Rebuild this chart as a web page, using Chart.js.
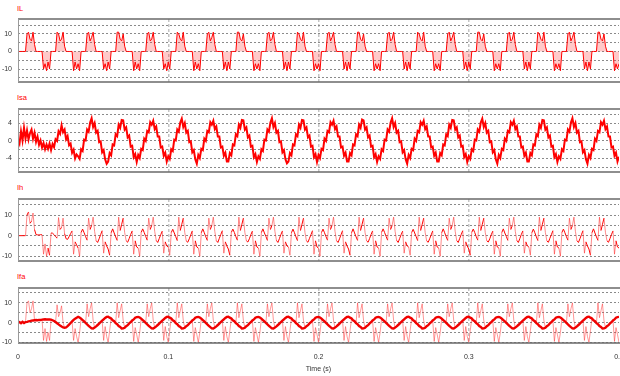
<!DOCTYPE html>
<html><head><meta charset="utf-8">
<script src="https://cdn.jsdelivr.net/npm/chart.js@4.4.1/dist/chart.umd.min.js"></script>
<style>
html,body{margin:0;padding:0;background:#fff;overflow:hidden;width:620px;height:376px;position:relative;}
canvas{position:absolute;left:0;}
.ttl{position:absolute;left:17px;font:7.5px "Liberation Sans",Arial,sans-serif;line-height:8px;color:#ff0000;white-space:nowrap;}
</style></head><body>
<div class="ttl" style="top:5px">IL</div>
<div class="ttl" style="top:94px">Isa</div>
<div class="ttl" style="top:184px">Ih</div>
<div class="ttl" style="top:273px">Ifa</div>
<canvas id="c1"></canvas><canvas id="c2"></canvas><canvas id="c3"></canvas><canvas id="c4"></canvas>
<script>
// sample step (s)
const dt = 0.001;
// x-axis ticks
const xTicks = [0, 0.1, 0.2, 0.3, 0.4];
const xTickLabels = ['0', '0.1', '0.2', '0.3', '0.4'];

// IL — load current (one row per 20 ms cycle)
const IL = [
 0,0,0,0,0,0,10,11,7,6,11,4,0,0,0,0,0,-10,-7,-11,
 -6,-10,0,0,0,0,11,10,6,7,11,3,0,0,0,0,0,-11,-6,-10,
 -7,-11,0,0,0,0,10,11,6,8,11,4,0,0,0,0,0,-10,-7,-11,
 -6,-10,0,0,0,0,11,11,7,6,10,3,0,0,0,0,0,-11,-6,-10,
 -7,-11,0,0,0,0,10,11,6,7,11,4,0,0,0,0,0,-10,-7,-11,
 -6,-10,0,0,0,0,11,10,7,6,11,3,0,0,0,0,0,-11,-6,-10,
 -7,-11,0,0,0,0,10,11,6,8,11,4,0,0,0,0,0,-10,-6,-11,
 -6,-10,0,0,0,0,11,11,7,6,10,3,0,0,0,0,0,-11,-7,-10,
 -7,-11,0,0,0,0,10,11,6,7,11,4,0,0,0,0,0,-10,-6,-11,
 -6,-10,0,0,0,0,11,10,7,6,11,3,0,0,0,0,0,-11,-7,-10,
 -7,-11,0,0,0,0,10,11,6,8,11,4,0,0,0,0,0,-10,-6,-11,
 -6,-10,0,0,0,0,11,11,7,6,10,3,0,0,0,0,0,-11,-7,-10,
 -7,-11,0,0,0,0,10,11,6,7,11,4,0,0,0,0,0,-10,-6,-11,
 -6,-10,0,0,0,0,11,10,7,6,11,3,0,0,0,0,0,-11,-7,-10,
 -7,-11,0,0,0,0,10,11,6,8,11,4,0,0,0,0,0,-10,-6,-11,
 -6,-10,0,0,0,0,11,11,7,6,10,3,0,0,0,0,0,-11,-7,-10,
 -7,-11,0,0,0,0,10,11,6,7,11,4,0,0,0,0,0,-10,-6,-11,
 -6,-10,0,0,0,0,11,10,7,6,11,3,0,0,0,0,0,-11,-7,-10,
 -7,-11,0,0,0,0,10,11,6,8,11,4,0,0,0,0,0,-10,-6,-11,
 -6,-10,0,0,0,0,11,11,7,6,10,3,0,0,0,0,0,-11,-7,-10,
 -7
];

// Isa — source current (noisy)
const Isa = [
 0.3,-0.6,2.2,0.1,3.0,0.5,2.4,0.3,1.8,2.6,0.5,1.9,-0.2,1.0,-0.9,0.1,-1.5,-0.5,-1.9,-0.8,
 -1.8,-0.6,-2.1,-0.7,-1.4,0.4,0.0,2.2,1.6,3.6,2.0,2.6,0.4,1.1,-1.0,-0.6,-2.7,-2.0,-4.0,-3.1,
 -3.5,-4.1,-1.9,-2.3,0.3,0.1,2.6,2.1,4.2,5.2,3.2,4.1,1.9,2.3,-0.3,-0.1,-2.6,-2.1,-4.2,-5.2,
 -4.7,-2.8,-3.3,-0.8,-1.0,1.5,1.1,3.7,3.0,4.8,4.7,2.6,3.1,0.8,1.2,-1.3,-1.1,-3.7,-3.0,-4.8,
 -3.2,-3.9,-1.8,-2.1,0.5,0.0,2.3,2.0,4.3,3.7,4.6,2.7,3.3,1.0,1.0,-1.5,-1.3,-3.4,-2.7,-4.7,
 -3.5,-4.1,-1.9,-2.3,0.3,0.1,2.6,2.1,4.2,5.1,3.2,4.1,1.9,2.3,-0.3,-0.1,-2.6,-2.1,-4.2,-5.2,
 -3.2,-3.9,-1.8,-2.1,0.5,0.0,2.3,2.0,4.3,3.7,4.6,2.7,3.3,1.0,1.0,-1.5,-1.3,-3.4,-2.7,-4.7,
 -4.7,-2.8,-3.3,-0.8,-1.0,1.5,1.1,3.7,3.0,4.8,4.7,2.6,3.1,0.8,1.2,-1.3,-1.1,-3.7,-3.0,-4.8,
 -3.5,-4.1,-1.9,-2.3,0.3,0.1,2.6,2.1,4.2,5.2,3.2,4.1,1.9,2.3,-0.3,-0.1,-2.6,-2.1,-4.2,-5.1,
 -4.7,-2.8,-3.3,-0.8,-1.0,1.5,1.1,3.7,3.0,4.8,4.7,2.6,3.1,0.8,1.2,-1.3,-1.1,-3.7,-3.0,-4.8,
 -3.2,-3.9,-1.8,-2.1,0.5,0.0,2.3,2.0,4.3,3.7,4.6,2.7,3.3,1.0,1.0,-1.5,-1.3,-3.4,-2.7,-4.7,
 -4.7,-2.8,-3.3,-0.8,-1.0,1.5,1.1,3.7,3.0,4.9,4.7,2.6,3.1,0.8,1.2,-1.3,-1.1,-3.7,-3.0,-4.8,
 -3.5,-4.1,-1.9,-2.3,0.3,0.1,2.6,2.1,4.2,5.2,3.2,4.1,1.9,2.3,-0.3,-0.1,-2.6,-2.1,-4.2,-5.2,
 -3.2,-3.9,-1.8,-2.1,0.5,0.0,2.3,2.0,4.3,3.7,4.6,2.7,3.3,1.0,1.0,-1.5,-1.3,-3.4,-2.7,-4.7,
 -4.7,-2.8,-3.3,-0.8,-1.0,1.5,1.1,3.7,3.0,4.8,4.7,2.6,3.1,0.8,1.2,-1.3,-1.1,-3.7,-3.0,-4.8,
 -3.5,-4.1,-1.9,-2.3,0.3,0.1,2.6,2.1,4.2,5.1,3.2,4.1,1.9,2.3,-0.3,-0.1,-2.6,-2.1,-4.2,-5.2,
 -3.2,-3.9,-1.8,-2.1,0.5,0.0,2.3,2.0,4.3,3.7,4.6,2.7,3.3,1.0,1.0,-1.5,-1.3,-3.4,-2.7,-4.7,
 -4.7,-2.8,-3.3,-0.8,-1.0,1.5,1.1,3.7,3.0,4.8,4.7,2.6,3.1,0.8,1.2,-1.3,-1.1,-3.7,-3.0,-4.8,
 -3.5,-4.1,-1.9,-2.3,0.3,0.1,2.6,2.1,4.2,5.2,3.2,4.1,1.9,2.3,-0.3,-0.1,-2.6,-2.1,-4.2,-5.2,
 -3.2,-3.9,-1.8,-2.1,0.5,0.0,2.3,2.0,4.3,3.7,4.6,2.7,3.3,1.0,1.0,-1.5,-1.3,-3.4,-2.7,-4.7,
 -3.6
];

// Ih — harmonic current reference
const Ih = [
 0,0,0,0,0,0,10,11.5,6,7,11,3,0.5,0.4,0.3,0.5,0.4,-9,-4,-10,
 -6,-9.5,1.3,1.2,0.5,-0.5,-1.2,8.8,3,4,8.5,1,-1.5,-1.8,-0.5,1.0,2.3,-9,-3,-4.5,
 -6,-10,1.5,3.2,1.4,-0.5,-2.2,8.5,3,5,9,2,-2.4,-3.3,-1.5,0.5,2.4,-8.5,-3,-5,
 -6.5,-9.5,1.4,3.3,1.3,-0.6,-2.3,9,2.5,5.5,8.5,1.5,-2.5,-3.2,-1.4,0.6,2.3,-9,-2.5,-5.5,
 -6,-10,1.6,3.3,1.5,-0.4,-2.2,8.5,3,5,9,2,-2.3,-3.3,-1.4,0.5,2.2,-8.5,-3,-5,
 -5.5,-9.5,1.5,3.1,1.3,-0.5,-2.4,9,2.5,5.5,8.5,1.5,-2.6,-3.2,-1.5,0.4,2.3,-9,-2.5,-5.5,
 -6,-10,1.4,3.3,1.4,-0.6,-2.3,8.5,3,5,9,2,-2.4,-3.3,-1.3,0.6,2.4,-8.5,-3,-5,
 -6.5,-9.5,1.6,3.2,1.5,-0.5,-2.2,9,2.5,5.5,8.5,1.5,-2.5,-3.1,-1.5,0.5,2.2,-9,-2.5,-5.5,
 -6,-10,1.5,3.3,1.3,-0.4,-2.3,8.5,3,5,9,2,-2.3,-3.3,-1.4,0.6,2.3,-8.5,-3,-5,
 -5.5,-9.5,1.4,3.2,1.4,-0.6,-2.4,9,2.5,5.5,8.5,1.5,-2.6,-3.2,-1.3,0.5,2.4,-9,-2.5,-5.5,
 -6,-10,1.5,3.2,1.4,-0.5,-2.2,8.5,3,5,9,2,-2.4,-3.3,-1.5,0.5,2.4,-8.5,-3,-5,
 -6.5,-9.5,1.4,3.3,1.3,-0.6,-2.3,9,2.5,5.5,8.5,1.5,-2.5,-3.2,-1.4,0.6,2.3,-9,-2.5,-5.5,
 -6,-10,1.6,3.3,1.5,-0.4,-2.2,8.5,3,5,9,2,-2.3,-3.3,-1.4,0.5,2.2,-8.5,-3,-5,
 -5.5,-9.5,1.5,3.1,1.3,-0.5,-2.4,9,2.5,5.5,8.5,1.5,-2.6,-3.2,-1.5,0.4,2.3,-9,-2.5,-5.5,
 -6,-10,1.4,3.3,1.4,-0.6,-2.3,8.5,3,5,9,2,-2.4,-3.3,-1.3,0.6,2.4,-8.5,-3,-5,
 -6.5,-9.5,1.6,3.2,1.5,-0.5,-2.2,9,2.5,5.5,8.5,1.5,-2.5,-3.1,-1.5,0.5,2.2,-9,-2.5,-5.5,
 -6,-10,1.5,3.3,1.3,-0.4,-2.3,8.5,3,5,9,2,-2.3,-3.3,-1.4,0.6,2.3,-8.5,-3,-5,
 -5.5,-9.5,1.4,3.2,1.4,-0.6,-2.4,9,2.5,5.5,8.5,1.5,-2.6,-3.2,-1.3,0.5,2.4,-9,-2.5,-5.5,
 -6,-10,1.5,3.2,1.4,-0.5,-2.2,8.5,3,5,9,2,-2.4,-3.3,-1.5,0.5,2.4,-8.5,-3,-5,
 -6.5,-9.5,1.4,3.3,1.3,-0.6,-2.3,9,2.5,5.5,8.5,1.5,-2.5,-3.2,-1.4,0.6,2.3,-9,-2.5,-5.5,
 -6
];

// Ifa — filter current: slow (dark, thick) component
const IfaBase = [
 0,0.3,-0.3,0.4,-0.2,0.3,0.4,0.6,0.8,1.0,1.1,1.2,1.3,1.2,1.4,1.3,1.5,1.6,1.7,1.6,
 1.6,1.6,1.5,1.2,0.8,0.3,-0.3,-0.9,-1.5,-2.0,-2.4,-2.6,-2.4,-1.8,-1.0,-0.2,0.6,1.4,2.0,2.5,
 2.9,2.6,2.0,1.3,0.6,-0.2,-0.9,-1.6,-2.3,-2.9,-3.0,-2.5,-1.9,-1.2,-0.5,0.3,1.0,1.7,2.4,2.9,
 3.0,2.5,2.1,1.2,0.7,-0.3,-0.8,-1.7,-2.2,-3.0,-2.9,-2.6,-1.8,-1.3,-0.4,0.2,1.1,1.6,2.5,2.8,
 2.9,2.6,2.0,1.3,0.6,-0.2,-0.9,-1.6,-2.3,-2.9,-3.0,-2.5,-1.9,-1.2,-0.5,0.3,1.0,1.7,2.4,2.9,
 3.0,2.5,2.1,1.2,0.7,-0.3,-0.8,-1.7,-2.2,-3.0,-2.9,-2.6,-1.8,-1.3,-0.4,0.2,1.1,1.6,2.5,2.8,
 2.9,2.6,2.0,1.3,0.6,-0.2,-0.9,-1.6,-2.3,-2.9,-3.0,-2.5,-1.9,-1.2,-0.5,0.3,1.0,1.7,2.4,2.9,
 3.0,2.5,2.1,1.2,0.7,-0.3,-0.8,-1.7,-2.2,-3.0,-2.9,-2.6,-1.8,-1.3,-0.4,0.2,1.1,1.6,2.5,2.8,
 2.9,2.6,2.0,1.3,0.6,-0.2,-0.9,-1.6,-2.3,-2.9,-3.0,-2.5,-1.9,-1.2,-0.5,0.3,1.0,1.7,2.4,2.9,
 3.0,2.5,2.1,1.2,0.7,-0.3,-0.8,-1.7,-2.2,-3.0,-2.9,-2.6,-1.8,-1.3,-0.4,0.2,1.1,1.6,2.5,2.8,
 2.9,2.6,2.0,1.3,0.6,-0.2,-0.9,-1.6,-2.3,-2.9,-3.0,-2.5,-1.9,-1.2,-0.5,0.3,1.0,1.7,2.4,2.9,
 3.0,2.5,2.1,1.2,0.7,-0.3,-0.8,-1.7,-2.2,-3.0,-2.9,-2.6,-1.8,-1.3,-0.4,0.2,1.1,1.6,2.5,2.8,
 2.9,2.6,2.0,1.3,0.6,-0.2,-0.9,-1.6,-2.3,-2.9,-3.0,-2.5,-1.9,-1.2,-0.5,0.3,1.0,1.7,2.4,2.9,
 3.0,2.5,2.1,1.2,0.7,-0.3,-0.8,-1.7,-2.2,-3.0,-2.9,-2.6,-1.8,-1.3,-0.4,0.2,1.1,1.6,2.5,2.8,
 2.9,2.6,2.0,1.3,0.6,-0.2,-0.9,-1.6,-2.3,-2.9,-3.0,-2.5,-1.9,-1.2,-0.5,0.3,1.0,1.7,2.4,2.9,
 3.0,2.5,2.1,1.2,0.7,-0.3,-0.8,-1.7,-2.2,-3.0,-2.9,-2.6,-1.8,-1.3,-0.4,0.2,1.1,1.6,2.5,2.8,
 2.9,2.6,2.0,1.3,0.6,-0.2,-0.9,-1.6,-2.3,-2.9,-3.0,-2.5,-1.9,-1.2,-0.5,0.3,1.0,1.7,2.4,2.9,
 3.0,2.5,2.1,1.2,0.7,-0.3,-0.8,-1.7,-2.2,-3.0,-2.9,-2.6,-1.8,-1.3,-0.4,0.2,1.1,1.6,2.5,2.8,
 2.9,2.6,2.0,1.3,0.6,-0.2,-0.9,-1.6,-2.3,-2.9,-3.0,-2.5,-1.9,-1.2,-0.5,0.3,1.0,1.7,2.4,2.9,
 3.0,2.5,2.1,1.2,0.7,-0.3,-0.8,-1.7,-2.2,-3.0,-2.9,-2.6,-1.8,-1.3,-0.4,0.2,1.1,1.6,2.5,2.8,
 2.9
];
// Ifa — switching pulses (pink); null = no pulse
const _ = null;
const IfaPulse = [
 _,_,_,_,_,0.3,10,11,5,7,11,1.2,_,_,_,_,1.5,-9,-3,-9.5,
 -5,-9,1.5,_,_,0.3,9,3,5,8.5,0,-2.6,_,_,_,_,0.6,-9,-3,-7,
 -10,-5,2.0,_,_,-0.2,9.5,3,7,10,1,-2.5,_,_,_,_,1.0,-9,-2,-7,
 -10,-4,2.1,_,_,-0.3,10,2.5,6,9.5,1,-2.6,_,_,_,_,1.1,-9.5,-2.5,-6,
 -10,-5,2.0,_,_,-0.2,9.5,3,7,10,1,-2.5,_,_,_,_,1.0,-9,-2,-7,
 -10,-4,2.1,_,_,-0.3,10,2.5,6,9.5,1,-2.6,_,_,_,_,1.1,-9.5,-2.5,-6,
 -10,-5,2.0,_,_,-0.2,9.5,3,7,10,1,-2.5,_,_,_,_,1.0,-9,-2,-7,
 -10,-4,2.1,_,_,-0.3,10,2.5,6,9.5,1,-2.6,_,_,_,_,1.1,-9.5,-2.5,-6,
 -10,-5,2.0,_,_,-0.2,9.5,3,7,10,1,-2.5,_,_,_,_,1.0,-9,-2,-7,
 -10,-4,2.1,_,_,-0.3,10,2.5,6,9.5,1,-2.6,_,_,_,_,1.1,-9.5,-2.5,-6,
 -10,-5,2.0,_,_,-0.2,9.5,3,7,10,1,-2.5,_,_,_,_,1.0,-9,-2,-7,
 -10,-4,2.1,_,_,-0.3,10,2.5,6,9.5,1,-2.6,_,_,_,_,1.1,-9.5,-2.5,-6,
 -10,-5,2.0,_,_,-0.2,9.5,3,7,10,1,-2.5,_,_,_,_,1.0,-9,-2,-7,
 -10,-4,2.1,_,_,-0.3,10,2.5,6,9.5,1,-2.6,_,_,_,_,1.1,-9.5,-2.5,-6,
 -10,-5,2.0,_,_,-0.2,9.5,3,7,10,1,-2.5,_,_,_,_,1.0,-9,-2,-7,
 -10,-4,2.1,_,_,-0.3,10,2.5,6,9.5,1,-2.6,_,_,_,_,1.1,-9.5,-2.5,-6,
 -10,-5,2.0,_,_,-0.2,9.5,3,7,10,1,-2.5,_,_,_,_,1.0,-9,-2,-7,
 -10,-4,2.1,_,_,-0.3,10,2.5,6,9.5,1,-2.6,_,_,_,_,1.1,-9.5,-2.5,-6,
 -10,-5,2.0,_,_,-0.2,9.5,3,7,10,1,-2.5,_,_,_,_,1.0,-9,-2,-7,
 -10,-4,2.1,_,_,-0.3,10,2.5,6,9.5,1,-2.6,_,_,_,_,1.1,-9.5,-2.5,-6,
 -10
];

// y-axis gridlines and labelled ticks per panel
const ILgrid = [-15,-10,-5,0,5,10,15], ILlabels = [-10,0,10];
const IsaGrid = [-6,-4,-2,0,2,4,6], IsaLabels = [-4,0,4];
const IhGrid = [-10,-5,0,5,10,15], IhLabels = [-10,0,10];
const IfaGrid = [-10,-5,0,5,10,15], IfaLabels = [-10,0,10];

const times = IL.map((_v, i) => +(i * dt).toFixed(4));

const FONT = '"Liberation Sans", Arial, sans-serif';
const CW = 640;           // canvas width (right part falls outside the 620px window)
const PLOT_LEFT = 18, PLOT_RIGHT = 619;

const framePlugin = {
  id: 'frame',
  afterDatasetsDraw(chart) {
    const {ctx, chartArea: a} = chart;
    ctx.save();
    ctx.strokeStyle = '#6a6a6a';
    ctx.lineWidth = 1.5;
    ctx.beginPath();
    ctx.moveTo(a.left, a.top); ctx.lineTo(a.right + 5, a.top);
    ctx.moveTo(a.left, a.bottom); ctx.lineTo(a.right + 5, a.bottom);
    ctx.stroke();
    ctx.lineWidth = 1;
    ctx.strokeStyle = '#9a9a9a';
    ctx.beginPath();
    ctx.moveTo(a.left + 0.5, a.top); ctx.lineTo(a.left + 0.5, a.bottom);
    ctx.stroke();
    ctx.restore();
  }
};

const steep = (ctx, lim) => Math.abs(ctx.p1.parsed.y - ctx.p0.parsed.y) > lim;

const panels = [
  {id:'c1', grid:ILgrid, labels:ILlabels, min:-17.4, max:18.5, top:19, bottom:82,
   sets:[{data:IL, borderColor:'#ff0000', borderWidth:1, fill:'origin', backgroundColor:'rgba(255,60,60,0.28)'}]},
  {id:'c2', grid:IsaGrid, labels:IsaLabels, min:-7.1, max:7.3, top:109, bottom:172,
   sets:[{data:Isa, borderColor:'#ff0000', borderWidth:2}]},
  {id:'c3', grid:IhGrid, labels:IhLabels, min:-12.3, max:17.8, top:199, bottom:261,
   sets:[{data:Ih, borderColor:'#ff0000', borderWidth:1,
       segment:{borderColor: c => steep(c, 3.5) ? 'rgba(255,40,40,0.55)' : '#ff0000'}}]},
  {id:'c4', grid:IfaGrid, labels:IfaLabels, min:-10.3, max:17.5, top:288, bottom:343, last:true,
   sets:[
     {data:IfaPulse, borderColor:'rgba(255,50,50,0.5)', borderWidth:1, spanGaps:false, order:2},
     {data:IfaBase, borderColor:'#f00000', borderWidth:2.4, order:1}
   ]}
];

panels.forEach(p => {
  const cv = document.getElementById(p.id);
  const padT = 2;
  const top = p.top - padT;
  const h = p.last ? (376 - top) : (p.bottom - p.top + 2 * padT);
  cv.width = CW; cv.height = h;
  cv.style.top = top + 'px';
  cv.style.width = CW + 'px'; cv.style.height = h + 'px';
  new Chart(cv, {
    type: 'line',
    data: {
      labels: times,
      datasets: p.sets.map(s => Object.assign({pointRadius: 0, tension: 0}, s))
    },
    options: {
      responsive: false, animation: false, devicePixelRatio: 1,
      layout: {padding: {left: 0, right: CW - PLOT_RIGHT, top: padT, bottom: p.last ? 0 : padT}},
      plugins: {legend: {display: false}, tooltip: {enabled: false}, title: {display: false}},
      scales: {
        x: {
          type: 'linear', min: 0, max: 0.4,
          afterBuildTicks: a => { a.ticks = xTicks.map(v => ({value: v})); },
          afterFit: s => { s.height = p.last ? 33 : 0; s.paddingLeft = 0; s.paddingRight = 0; },
          grid: {
            drawTicks: false, lineWidth: 1.5,
            color: c => (c.tick && c.tick.value > 0.001 && c.tick.value < 0.399) ? '#c4c4c4' : 'rgba(0,0,0,0)'
          },
          border: {display: false, dash: [3, 2]},
          ticks: {
            display: !!p.last, padding: 10, maxRotation: 0, autoSkip: false,
            font: {family: FONT, size: 7}, color: '#333',
            callback: (v, i) => xTickLabels[i]
          },
          title: {display: !!p.last, text: 'Time (s)', font: {family: FONT, size: 7}, color: '#333', padding: {top: 0, bottom: 3}}
        },
        y: {
          min: p.min, max: p.max,
          afterBuildTicks: a => { a.ticks = p.grid.map(v => ({value: v})); },
          afterFit: s => { s.width = PLOT_LEFT; s.paddingTop = 0; s.paddingBottom = 0; },
          grid: {drawTicks: false, color: '#8a8a8a', lineWidth: 1},
          border: {display: false, dash: [2, 2]},
          ticks: {
            autoSkip: false, padding: 6, font: {family: FONT, size: 7}, color: '#333',
            callback: v => p.labels.includes(v) ? String(v) : ''
          }
        }
      }
    },
    plugins: [framePlugin]
  });
});
</script>
</body></html>
